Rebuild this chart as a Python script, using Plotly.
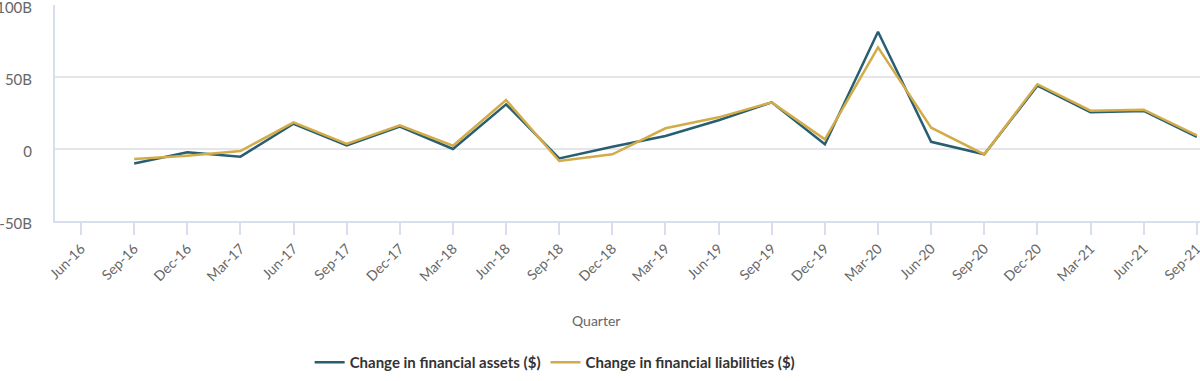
import plotly.graph_objects as go

quarters = ["Jun-16", "Sep-16", "Dec-16", "Mar-17", "Jun-17", "Sep-17", "Dec-17", "Mar-18",
            "Jun-18", "Sep-18", "Dec-18", "Mar-19", "Jun-19", "Sep-19", "Dec-19", "Mar-20",
            "Jun-20", "Sep-20", "Dec-20", "Mar-21", "Jun-21", "Sep-21"]
assets = [None, -10.0, -2.3, -5.3, 17.5, 2.5, 15.5, 0.0, 31.0, -6.5, 1.6, 9.0, 20.0, 32.4,
          3.3, 81.5, 5.0, -3.7, 44.0, 25.5, 26.4, 8.5]
liabilities = [None, -7.0, -4.6, -1.4, 18.5, 3.5, 16.5, 2.3, 34.0, -8.3, -3.7, 14.4, 22.0, 32.4,
               6.7, 70.6, 14.8, -3.7, 45.0, 26.6, 27.3, 9.5]
y_ticks = [-50, 0, 50, 100]
y_tick_text = ["-50B", "0", "50B", "100B"]

FONT = "Lato, 'Open Sans', sans-serif"

fig = go.Figure()
fig.add_trace(go.Scatter(x=quarters, y=assets, mode="lines", name="Change in financial assets ($)",
                         line=dict(color="#285e72", width=2.5)))
fig.add_trace(go.Scatter(x=quarters, y=liabilities, mode="lines", name="Change in financial liabilities ($)",
                         line=dict(color="#d3ac4a", width=2.5)))

fig.update_layout(
    width=1200, height=381,
    margin=dict(l=55, r=0, t=5, b=160, autoexpand=False),
    paper_bgcolor="white", plot_bgcolor="white",
    font=dict(family=FONT, color="#666666", size=13),
    showlegend=True,
    legend=dict(orientation="h", x=0.2224, xanchor="left", y=-0.5785, yanchor="top",
                font=dict(size=15, color="#333333", family=FONT, weight="bold"),
                traceorder="normal"),
    annotations=[dict(text="Quarter", xref="paper", yref="paper", x=0.4725, y=-0.461,
                      xanchor="center", yanchor="middle", showarrow=False,
                      font=dict(size=14, color="#666666"))],
)
fig.update_xaxes(
    type="category", categoryorder="array", categoryarray=quarters,
    range=[-0.49, 21.06], automargin=False,
    showgrid=False, showline=True, linecolor="#d8def0", linewidth=2,
    ticks="outside", ticklen=12, tickcolor="#d8def0", tickwidth=1.5,
    tickangle=-45, tickfont=dict(size=14, color="#666666"),
)
fig.update_yaxes(
    range=[-50, 100.02], tickvals=y_ticks, ticktext=y_tick_text, automargin=False,
    showgrid=True, gridcolor="#e6e6ea", gridwidth=1.5,
    showline=True, linecolor="#d8def0", linewidth=2,
    zeroline=True, zerolinecolor="#e6e6ea", zerolinewidth=1.5,
    tickfont=dict(size=15, color="#666666"), ticklabelstandoff=18,
    ticklabeloverflow="allow", ticklabelshift=3,
)

fig.write_html("out.html", config={"displayModeBar": False},
               post_script="document.body.style.margin='0';")
